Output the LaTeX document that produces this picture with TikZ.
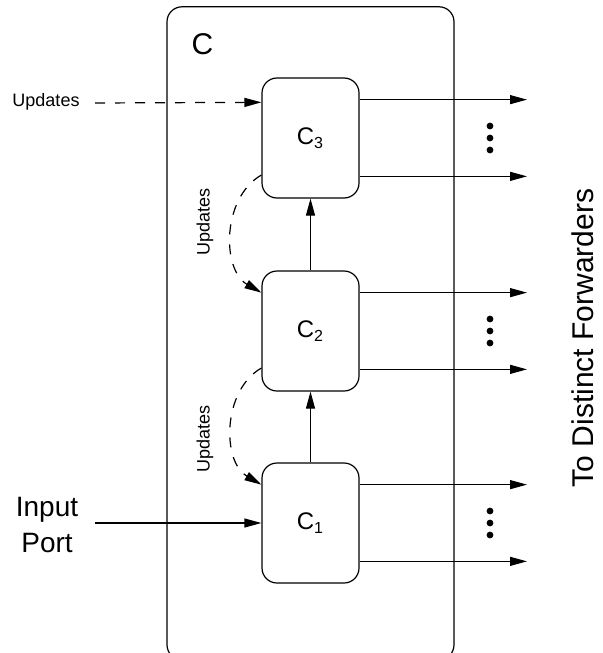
\documentclass[tikz,border=0pt]{standalone}
\usepackage{fontspec}
\setmainfont{Liberation Sans}
\usetikzlibrary{arrows.meta}
\tikzstyle{blk}=[draw, rounded corners=7.5pt, minimum width=48.5pt, minimum height=60pt, inner sep=0, line width=0.6pt, font=\fontsize{12}{14}\selectfont]
\tikzstyle{arr}=[-{Triangle[length=8.5pt,width=4.5pt]}, line width=0.6pt]
\tikzstyle{dsh}=[arr, dash pattern=on 5pt off 5pt]
\tikzstyle{small}=[font=\fontsize{9}{11}\selectfont]
\tikzstyle{big}=[font=\fontsize{14}{18}\selectfont, align=center]

\begin{document}
\begin{tikzpicture}[x=0.5pt,y=-0.5pt]
\useasboundingbox (0,0) rectangle (602,653);
\node[draw, rounded corners=7.5pt, minimum width=143.5pt, minimum height=326.5pt, line width=0.6pt] (C) at (310.5,333.3) {};
\node[font=\fontsize{15}{18}\selectfont] (Clab) at (202.5,44.5) {C};
\node[blk] (C3) at (310.5,138) {C\textsubscript{3}};
\node[blk] (C2) at (310.5,331) {C\textsubscript{2}};
\node[blk] (C1) at (310.5,523) {C\textsubscript{1}};
\coordinate (outR) at (527,0);
\foreach \n/\y in {3/138,2/331,1/523}
{
\draw[arr] (C\n.38) -- (C\n.38 -| outR);
\draw[arr] (C\n.-38) -- (C\n.-38 -| outR);
\foreach \d in {-12,0,12}
\fill (490,\y+\d) circle (1.7pt);
}
\draw[arr] (C1.north) -- (C2.south);
\draw[arr] (C2.north) -- (C3.south);
\node[small] (upd) at (46,102) {Updates};
\coordinate (updS) at (95,103);
\draw[dsh] (updS) -- (C3.144);
\draw[dsh] (C3.217) to[bend right=60] (C2.142);
\draw[dsh] (C2.217) to[bend right=60] (C1.142);
\node[small, rotate=90] (updB) at (205,222) {Updates};
\node[small, rotate=90] (updA) at (205,439) {Updates};
\node[big] (inp) at (47,525) {Input\\Port};
\coordinate (inS) at (95,523);
\draw[arr] (inS) -- (C1.west);
\node[font=\fontsize{15}{18}\selectfont, rotate=90] (fwd) at (583,338) {To Distinct Forwarders};
\end{tikzpicture}
\end{document}
